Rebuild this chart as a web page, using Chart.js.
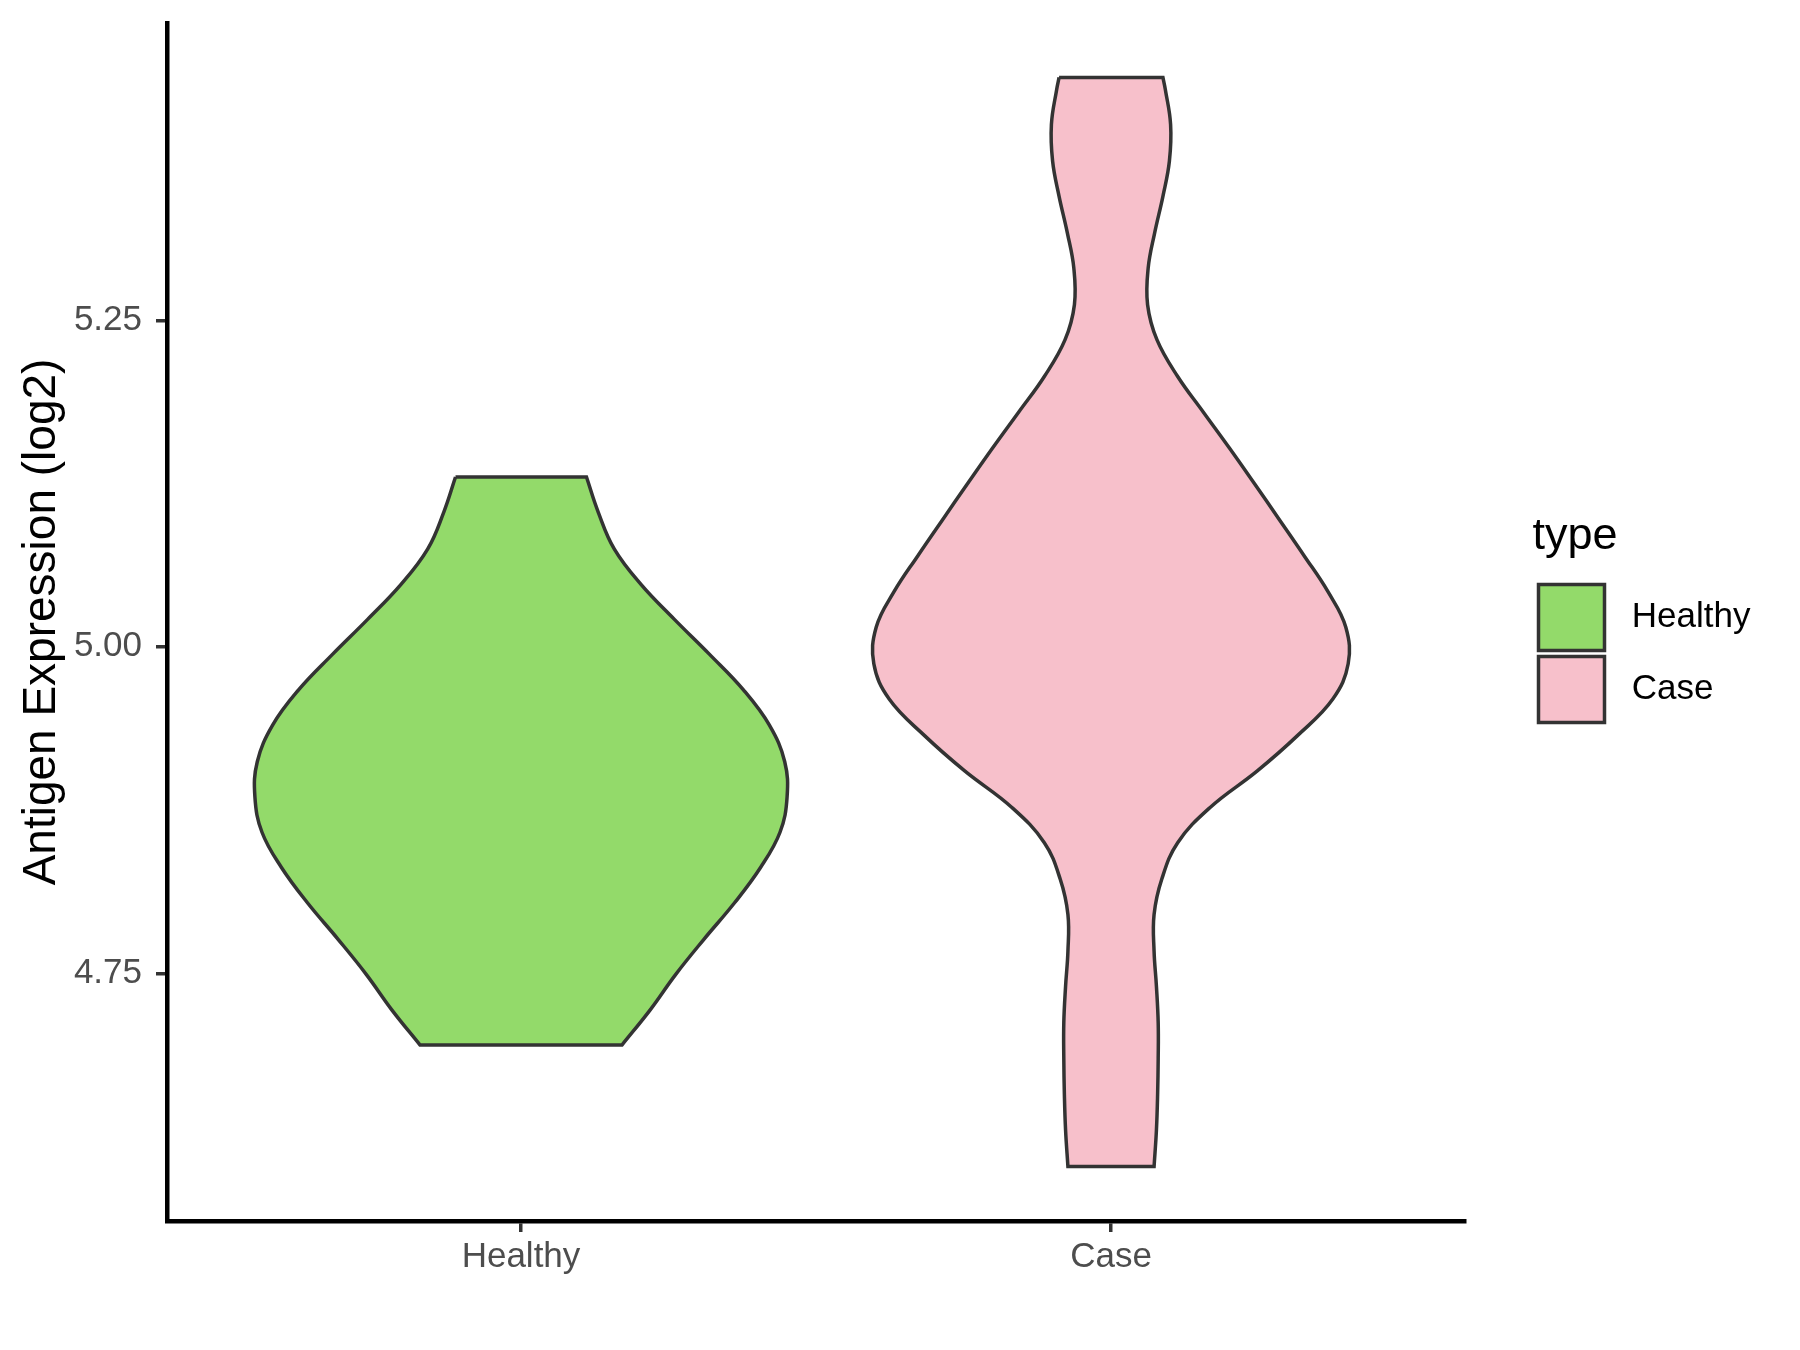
<!DOCTYPE html>
<html>
<head>
<meta charset="utf-8">
<title>Antigen Expression violin</title>
<script src="https://cdn.jsdelivr.net/npm/chart.js@4.4.1/dist/chart.umd.min.js"></script>
<style>
  html, body { margin: 0; padding: 0; background: #ffffff; }
  #wrap { width: 1800px; height: 1350px; }
</style>
</head>
<body>
<div id="wrap"><canvas id="violinChart" width="1800" height="1350"></canvas></div>
<script>
// Categories and fill colours
const categories = ['Healthy', 'Case'];
const fillColors = ['#93DA6A', '#F7C0CB'];

// Violin outlines: value (log2) and half width (x units)
const healthyY = [4.695, 4.722, 4.749, 4.776, 4.804, 4.831, 4.858, 4.885, 4.912,
  4.940, 4.967, 4.994, 5.021, 5.048, 5.075, 5.103, 5.130];
const healthyHalfWidth = [0.171, 0.219, 0.262, 0.310, 0.362, 0.406, 0.439, 0.451, 0.447,
  0.421, 0.377, 0.320, 0.260, 0.203, 0.158, 0.131, 0.111];

const caseY = [4.602, 4.630, 4.657, 4.685, 4.712, 4.740, 4.767, 4.795, 4.822, 4.850,
  4.877, 4.905, 4.932, 4.960, 4.987, 5.015, 5.042, 5.070, 5.097, 5.125, 5.152, 5.180,
  5.207, 5.235, 5.262, 5.290, 5.317, 5.345, 5.372, 5.400, 5.427, 5.436];
const caseHalfWidth = [0.073, 0.077, 0.079, 0.080, 0.080, 0.077, 0.073, 0.073, 0.086, 0.113,
  0.168, 0.248, 0.316, 0.376, 0.402, 0.398, 0.368, 0.327, 0.286, 0.243, 0.201, 0.156,
  0.113, 0.078, 0.062, 0.063, 0.074, 0.088, 0.099, 0.101, 0.092, 0.088];

// Axis ticks
const yTicks = [4.75, 5.00, 5.25];

const fontFamily = '"Liberation Sans", Arial, sans-serif';
Chart.defaults.font.family = fontFamily;

// Build closed outline: down the left side, across the bottom, up the right side
function violinPoints(center, ys, hws) {
  const n = ys.length;
  const pts = [];
  pts.push({ x: center - hws[n - 1], y: ys[n - 1] });
  for (let i = n - 1; i >= 0; i--) pts.push({ x: center - hws[i], y: ys[i] });
  pts.push({ x: center - hws[0], y: ys[0] });
  pts.push({ x: center + hws[0], y: ys[0] });
  for (let i = 0; i < n; i++) pts.push({ x: center + hws[i], y: ys[i] });
  pts.push({ x: center + hws[n - 1], y: ys[n - 1] });
  pts.push({ x: center - hws[n - 1], y: ys[n - 1] });
  return pts;
}

// ggplot style 5% expansion of the y range
const allY = healthyY.concat(caseY);
const dataMin = Math.min(...allY);
const dataMax = Math.max(...allY);
const yPad = (dataMax - dataMin) * 0.05;

// Legend sizing, so that the legend starts where the reference has it
const legendFontSize = 35;
const legendBox = 66;
const legendPadding = 6;
const legendLeft = 1532.5;
const legendLabels = categories.map(c => ' ' + c);
const measureCtx = document.createElement('canvas').getContext('2d');
measureCtx.font = legendFontSize + 'px ' + fontFamily;
const maxLabelWidth = Math.max(...legendLabels.map(t => measureCtx.measureText(t).width));
const legendWidth = legendPadding + legendBox + legendFontSize / 2 + maxLabelWidth + 10;
const rightPadding = Math.max(0, 1800 - legendLeft - legendWidth);

const series = [
  { ys: healthyY, hws: healthyHalfWidth },
  { ys: caseY, hws: caseHalfWidth }
];

const datasets = series.map((s, i) => ({
  label: categories[i],
  data: violinPoints(i + 1, s.ys, s.hws),
  xAxisID: 'x',
  yAxisID: 'y',
  showLine: true,
  fill: 'shape',
  backgroundColor: fillColors[i],
  borderColor: '#333333',
  borderWidth: 3.5,
  borderJoinStyle: 'miter',
  tension: 0.4,
  pointRadius: 0,
  pointHoverRadius: 0
}));

new Chart(document.getElementById('violinChart'), {
  type: 'scatter',
  data: { datasets: datasets },
  options: {
    responsive: false,
    devicePixelRatio: 1,
    animation: false,
    events: [],
    layout: { padding: { top: 23, left: 0, bottom: 0, right: rightPadding } },
    plugins: {
      tooltip: { enabled: false },
      legend: {
        display: true,
        position: 'right',
        align: 'start',
        title: {
          display: true,
          text: 'type',
          color: '#000000',
          position: 'start',
          font: { size: 45 },
          padding: { top: 491.5, bottom: 10 }
        },
        labels: {
          boxWidth: legendBox,
          boxHeight: legendBox,
          padding: legendPadding,
          color: '#000000',
          font: { size: legendFontSize },
          generateLabels: chart => chart.data.datasets.map((ds, i) => ({
            text: legendLabels[i],
            fillStyle: ds.backgroundColor,
            strokeStyle: '#333333',
            lineWidth: 3.5,
            lineJoin: 'miter',
            hidden: false,
            datasetIndex: i
          }))
        }
      }
    },
    scales: {
      x: {
        type: 'linear',
        position: 'bottom',
        min: 0.4,
        max: categories.length + 0.6,
        afterBuildTicks: axis => { axis.ticks = categories.map((c, i) => ({ value: i + 1 })); },
        afterFit: scale => { scale.height = 129; },
        ticks: {
          color: '#4D4D4D',
          font: { size: 35 },
          padding: 4,
          maxRotation: 0,
          autoSkip: false,
          callback: (value, index) => categories[index]
        },
        grid: { drawOnChartArea: false, drawTicks: true, tickLength: 11, color: '#333333', lineWidth: 3.5 },
        border: { display: true, color: '#000000', width: 4.5 }
      },
      y: {
        type: 'linear',
        position: 'left',
        min: dataMin - yPad,
        max: dataMax + yPad,
        afterBuildTicks: axis => { axis.ticks = yTicks.map(v => ({ value: v })); },
        afterFit: scale => { scale.width = 167; },
        ticks: {
          color: '#4D4D4D',
          // small lineHeight keeps the label padding from pushing the plot down
          font: { size: 35, lineHeight: 0.2 },
          padding: 14,
          callback: value => value.toFixed(2)
        },
        grid: { drawOnChartArea: false, drawTicks: true, tickLength: 11, color: '#333333', lineWidth: 3.5 },
        border: { display: true, color: '#000000', width: 4.5 },
        title: {
          display: true,
          text: 'Antigen Expression (log2)',
          color: '#000000',
          font: { size: 46 },
          padding: { top: 15, bottom: 0 }
        }
      },
      // empty spacer between the plot and the legend
      gap: {
        type: 'linear',
        position: 'right',
        display: true,
        afterFit: scale => { scale.width = legendLeft - 1465; },
        grid: { display: false },
        border: { display: false },
        ticks: { display: false }
      }
    }
  }
});
</script>
</body>
</html>
